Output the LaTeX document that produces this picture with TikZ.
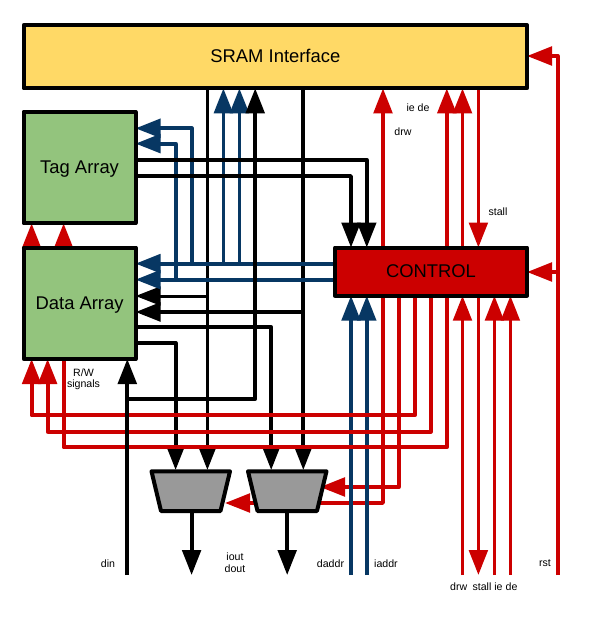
\documentclass[tikz,border=0pt]{standalone}
\usepackage{fontspec}
\setmainfont{Liberation Sans}
\usetikzlibrary{arrows.meta}
\definecolor{cyel}{HTML}{FFD966}
\definecolor{cgrn}{HTML}{93C47D}
\definecolor{cred}{HTML}{CC0000}
\definecolor{cblu}{HTML}{073763}
\definecolor{cgry}{HTML}{999999}
\pgfdeclarelayer{wires}
\pgfsetlayers{wires,main}
\tikzset{
  box/.style={draw=black,line width=4pt,line join=round,inner sep=0pt,outer sep=0pt,text height=12.2pt,text depth=0pt,font=\fontsize{18.4}{20}\selectfont},
  muxbox/.style={draw=black,fill=cgry,line width=4pt,line join=round},
  wk/.style={draw=black,line width=3.8pt,line join=round},
  wb/.style={draw=cblu,line width=3.8pt,line join=round},
  wr/.style={draw=cred,line width=3.8pt,line join=round},
  hd/.style={-{Triangle[length=25pt,width=18.5pt]}},
  lab/.style={inner sep=0pt,font=\fontsize{10.6}{12}\selectfont},
}
\begin{document}
\begin{tikzpicture}[x=1pt,y=-1pt]
\useasboundingbox (0,0) rectangle (605,625);
% boxes
\node[box,fill=cyel,minimum width=503.3pt,minimum height=63.3pt] (sram) at (275.35,56.65) {SRAM Interface};
\node[box,fill=cgrn,minimum width=111.8pt,minimum height=111.6pt] (tag) at (79.6,167.5) {Tag Array};
\node[box,fill=cgrn,minimum width=111.8pt,minimum height=111.5pt] (data) at (79.6,303.25) {Data Array};
\node[box,fill=cred,minimum width=192pt,minimum height=48.2pt] (control) at (431,271.6) {CONTROL};
\draw[muxbox] (151.5,471.3) -- (230,471.3) -- (220.5,511) -- (161,511) -- cycle;
\draw[muxbox] (248,471.3) -- (326.5,471.3) -- (317,511) -- (257.5,511) -- cycle;
% vertical buses
\foreach \n/\v in {a/31.6,b/47.6,c/63.6,d/127.3,e/175.6,f/191.6,g/207.4,h/223.4,i/239.4,j/255.2,k/271.2,l/287.2,m/303.3,n/351,o/366.8,p/383,q/398.8,r/415,s/430.8,t/446.8,u/462.5,v/478.4,w/494.4,x/510.4,y/557.7,z/225,A/320}
  \coordinate (V\n) at (\v,0);
% horizontal rows
\foreach \n/\v in {a/56,b/128.3,c/143.6,d/160,e/176,f/263.6,g/272,h/279.6,i/296,j/312,k/327,l/343,m/399,n/415.3,o/431.6,p/447.3,q/470,r/487,s/503,t/511,u/575}
  \coordinate (H\n) at (0,\v);
\begin{pgfonlayer}{wires}
% black under blue
\draw[wk,hd] (Vg |- sram.south) -- (Vg |- Hq);
\draw[wk,hd,line width=3pt] (Vg |- Hi) -- (data.east |- Hi);
\draw[wk,hd] (Vm |- sram.south) -- (Vm |- Hq);
\draw[wk,hd] (Vm |- Hj) -- (data.east |- Hj);
\draw[wk,hd] (data.east |- Hk) -- (Vk |- Hk) -- (Vk |- Hq);
\draw[wk,hd] (data.east |- Hl) -- (Ve |- Hl) -- (Ve |- Hq);
\draw[wk,hd] (Vf |- Ht) -- (Vf |- Hu);
\draw[wk,hd] (Vl |- Ht) -- (Vl |- Hu);
% red to mux selects
\draw[wr,hd] (Vq |- control.south) -- (Vq |- Hr) -- (VA |- Hr);
\draw[wr,hd] (Vp |- control.south) -- (Vp |- Hs) -- (Vz |- Hs);
% blue
\draw[wb,hd] (control.west |- Hf) -- (data.east |- Hf);
\draw[wb,hd] (control.west |- Hh) -- (data.east |- Hh);
\draw[wb,hd] (Vf |- Hf) -- (Vf |- Hb) -- (tag.east |- Hb);
\draw[wb,hd] (Ve |- Hh) -- (Ve |- Hc) -- (tag.east |- Hc);
\draw[wb,hd] (Vh |- Hf) -- (Vh |- sram.south);
\draw[wb,hd] (Vi |- Hf) -- (Vi |- sram.south);
\draw[wb,hd] (Vn |- Hu) -- (Vn |- control.south);
\draw[wb,hd] (Vo |- Hu) -- (Vo |- control.south);
% tag outputs
\draw[wk,hd] (tag.east |- Hd) -- (Vo |- Hd) -- (Vo |- control.north);
\draw[wk,hd] (tag.east |- He) -- (Vn |- He) -- (Vn |- control.north);
% red
\draw[wr,hd] (Vr |- control.south) -- (Vr |- Hn) -- (Va |- Hn) -- (Va |- data.south);
\draw[wr,hd] (Vs |- control.south) -- (Vs |- Ho) -- (Vb |- Ho) -- (Vb |- data.south);
\draw[wr] (Vt |- control.south) -- (Vt |- Hp) -- (Vc |- Hp) -- (Vc |- data.south);
\draw[wr,hd] (Va |- data.north) -- (Va |- tag.south);
\draw[wr,hd] (Vc |- data.north) -- (Vc |- tag.south);
\draw[wr,hd] (Vp |- control.north) -- (Vp |- sram.south);
\draw[wr,hd] (Vt |- control.north) -- (Vt |- sram.south);
\draw[wr,hd] (Vu |- control.north) -- (Vu |- sram.south);
\draw[wr,hd] (Vv |- sram.south) -- (Vv |- control.north);
\draw[wr,hd] (Vu |- Hu) -- (Vu |- control.south);
\draw[wr,hd] (Vv |- control.south) -- (Vv |- Hu);
\draw[wr,hd] (Vw |- Hu) -- (Vw |- control.south);
\draw[wr,hd] (Vx |- Hu) -- (Vx |- control.south);
\draw[wr,hd] (Vy |- Hu) -- (Vy |- Ha) -- (sram.east |- Ha);
\draw[wr,hd] (Vy |- Hg) -- (control.east |- Hg);
% din
\draw[wk,hd] (Vd |- Hu) -- (Vd |- data.south);
\draw[wk,hd] (Vd |- Hm) -- (Vj |- Hm) -- (Vj |- sram.south);
\end{pgfonlayer}
% labels
\node[lab] (l1) at (108,563.5) {din};
\node[lab] (l2) at (235,557) {iout};
\node[lab] (l3) at (235,569) {dout};
\node[lab] (l4) at (330.5,563.5) {daddr};
\node[lab] (l5) at (386,563.5) {iaddr};
\node[lab] (l6) at (458.7,587) {drw};
\node[lab] (l7) at (482,587) {stall};
\node[lab] (l8) at (498.5,587) {ie};
\node[lab] (l9) at (511.5,587) {de};
\node[lab] (l10) at (545,563.5) {rst};
\node[lab] (l11) at (418,108) {ie de};
\node[lab] (l12) at (403,132) {drw};
\node[lab] (l13) at (498,212) {stall};
\node[lab] (l14) at (83.5,373) {R/W};
\node[lab] (l15) at (83.5,385) {signals};
\end{tikzpicture}
\end{document}
